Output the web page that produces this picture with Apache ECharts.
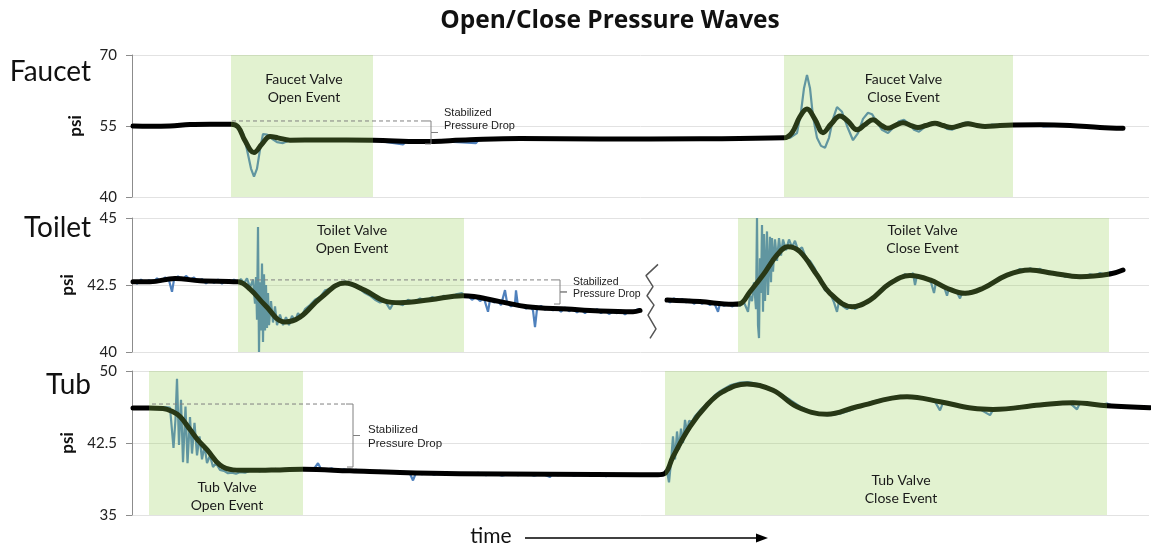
<!DOCTYPE html>
<html><head><meta charset="utf-8">
<script src="https://cdn.jsdelivr.net/npm/echarts@6/dist/echarts.min.js"></script>
<style>html,body{margin:0;padding:0;background:#fff}#c{width:1151px;height:545px}</style>
</head><body><div id="c"></div>
<script>
// ---------- DATA (time in arbitrary units, pressure in psi) ----------
const faucetSmooth = [[133,55.0],[150,54.95],[170,55.0],[190,55.3],[210,55.35],[231,55.35],[238,54.8],[245,51.9],[254,49.4],[262,51.2],[270,52.8],[278,52.5],[290,52.0],[320,52.05],[373,52.0],[420,51.7],[470,52.1],[520,52.35],[600,52.25],[700,52.3],[784,52.5],
  [792,53.6],[800,57.0],[807,58.6],[815,56.4],[823,53.6],[831,55.4],[840,57.1],[848,56.0],[857,54.2],[865,55.3],[873,56.3],[881,55.2],[888,54.5],[896,55.2],[903,55.7],[911,55.1],[918,54.7],[926,55.1],[935,55.6],[943,55.1],[952,54.7],[960,55.1],[968,55.5],[977,55.1],[985,54.9],[1000,55.1],[1013,55.2],[1040,55.25],[1070,55.1],[1100,54.7],[1123,54.5]];
const faucetRaw = [[133,55.05],[150,54.95],[170,55.05],[190,55.25],[210,55.3],[231,55.35],[238,55.0],[243,53.5],[247,50.0],[251,46.0],[254,44.3],[257,46.0],[260,50.0],[263,53.3],[267,53.2],[272,52.3],[277,51.6],[283,51.4],[290,52.0],[300,52.2],[320,52.1],[350,52.0],[373,52.0],[403,51.1],[406,51.7],[440,51.8],[476,51.4],[479,52.2],[520,52.4],[600,52.2],[700,52.3],[784,52.5],[790,52.5],[797,53.5],[801,58.0],[804,63.0],[807,65.8],[810,63.0],[813,57.0],[817,52.5],[821,50.8],[825,50.4],[829,52.5],[833,56.5],[837,59.0],[842,58.0],[847,55.0],[853,52.0],[858,53.5],[863,56.5],[868,57.8],[872,57.5],[877,55.8],[882,54.2],[888,53.5],[894,54.8],[899,56.0],[904,56.3],[910,55.3],[914,54.2],[919,53.8],[925,54.8],[930,55.6],[936,55.8],[942,55.2],[947,54.4],[952,54.2],[958,54.9],[963,55.6],[968,55.8],[974,55.3],[980,54.8],[986,54.8],[992,55.3],[1000,55.2],[1013,55.2],[1040,55.35],[1043,54.9],[1070,55.2],[1100,54.7],[1124,54.5]];

const toiletSmooth = [[133,42.62],[150,42.62],[175,42.74],[200,42.66],[238,42.62],[250,42.35],[265,41.75],[285,41.12],[300,41.3],[320,42.0],[345,42.57],[365,42.3],[385,41.9],[400,41.84],[430,41.95],[463,42.1],[500,41.88],[527,41.69],[567,41.6],[600,41.53],[633,41.5],[640,41.55],[653,null],
  [667,41.94],[700,41.88],[733,41.78],[740,41.8],[750,42.25],[763,42.87],[777,43.62],[788,43.93],[800,43.74],[817,42.87],[830,42.19],[852,41.69],[870,41.94],[890,42.56],[910,42.85],[930,42.69],[947,42.38],[965,42.19],[983,42.38],[1007,42.87],[1030,43.06],[1053,42.94],[1080,42.81],[1110,42.91],[1123,43.06]];
const toiletRaw = [[133,42.66],[137,42.55],[141,42.7],[145,42.58],[149,42.68],[153,42.6],[157,42.75],[161,42.63],[165,42.78],[169,42.68],[172,42.25],[174,42.7],[178,42.82],[182,42.68],[186,42.84],[190,42.7],[194,42.78],[198,42.62],[202,42.72],[206,42.56],[210,42.68],[214,42.58],[218,42.7],[222,42.55],[226,42.68],[230,42.57],[234,42.7],[238,42.6],
  [241,42.72],[244,42.55],[247,42.75],[250,42.4],[253,42.7],[255,41.8],[256,42.8],[257,41.2],[258,44.66],[259,40.0],[260,42.6],[261,40.8],[262,43.3],[263,40.37],[264,42.9],[265,40.8],[266,42.5],[267,40.9],[268,42.2],[269,41.0],[271,41.9],[273,41.1],[275,41.7],[277,41.0],[280,41.4],[283,41.0],[286,41.3],[289,41.0],[292,41.35],[295,41.15],[298,41.45],[301,41.3],[305,41.6],[310,41.75],[315,41.95],[320,42.05],[325,42.3],[330,42.35],[335,42.5],[340,42.58],[345,42.63],[350,42.5],[355,42.45],[360,42.35],[365,42.2],[370,42.1],[375,41.95],[380,41.85],[385,41.9],[390,41.6],[393,41.8],[398,41.82],[403,41.75],[408,41.95],[414,41.85],[420,42.0],[426,41.9],[432,42.05],[438,41.95],[444,42.1],[450,42.05],[456,42.15],[462,42.2],[465,42.05],
  [468,42.1],[472,41.95],[476,42.05],[480,41.9],[484,42.0],[488,41.5],[490,41.95],[494,41.85],[498,41.9],[501,41.75],[505,42.31],[507,41.85],[511,41.7],[515,41.82],[516,42.3],[518,41.7],[522,41.75],[526,41.62],[530,41.7],[533,41.55],[535,40.93],[537,41.6],[541,41.72],[545,41.58],[549,41.68],[553,41.55],[557,41.65],[561,41.5],[565,41.66],[569,41.52],[573,41.62],[577,41.48],[581,41.6],[585,41.45],[589,41.58],[593,41.5],[597,41.6],[601,41.45],[605,41.55],[609,41.42],[613,41.5],[617,41.45],[621,41.55],[625,41.4],[629,41.52],[633,41.47],[637,41.58],[640,41.6],[653,null],
  [666,41.97],[670,41.85],[674,42.0],[678,41.88],[682,41.98],[686,41.85],[690,41.95],[694,41.8],[698,41.9],[702,41.8],[706,41.88],[710,41.75],[714,41.85],[718,41.5],[720,41.82],[724,41.72],[728,41.8],[732,41.7],[736,41.78],[740,41.72],[744,41.85],[748,41.5],[750,42.1],[752,41.9],[754,42.6],[756,41.6],[757,45.0],[758,41.0],[759,40.52],[760,43.5],[761,42.2],[762,44.74],[763,41.5],[764,44.4],[765,41.9],[767,44.5],[768,42.13],[770,44.3],[771,42.6],[772,44.25],[773,43.0],[775,44.2],[777,43.4],[779,44.25],[781,43.6],[783,44.2],[786,43.8],[789,44.2],[792,43.9],[795,44.15],[798,43.8],[802,43.9],
  [806,43.5],[810,43.4],[815,43.1],[820,42.7],[825,42.3],[830,42.2],[834,41.85],[837,41.5],[839,41.9],[843,41.7],[847,41.6],[851,41.75],[855,41.6],[859,41.72],[863,41.8],[867,41.85],[871,42.0],[875,42.1],[880,42.3],[885,42.45],[890,42.6],[895,42.7],[900,42.78],[905,42.9],[910,42.82],[913,42.95],[915,42.5],[917,42.85],[922,42.78],[927,42.72],[931,42.6],[934,42.2],[936,42.62],[940,42.5],[944,42.45],[947,42.1],[949,42.4],[953,42.3],[957,42.22],[960,42.0],[962,42.2],[966,42.15],[970,42.25],[975,42.28],[980,42.35],[985,42.4],[990,42.55],[995,42.62],[1000,42.75],[1005,42.85],[1010,42.95],[1015,42.98],[1020,43.1],[1025,43.02],[1030,43.12],[1035,43.05],[1040,43.1],[1045,42.98],[1050,43.0],[1055,42.88],[1060,42.95],[1065,42.8],[1070,42.88],[1075,42.78],[1080,42.85],[1085,42.8],[1090,42.9],[1095,42.85],[1100,42.95],[1105,42.88],[1110,42.98],[1115,42.95],[1120,43.05],[1124,43.1]];

const tubSmooth = [[133,46.15],[149,46.15],[163,46.1],[172,45.8],[180,45.25],[190,43.9],[198,42.8],[207,41.8],[220,40.2],[233,39.7],[250,39.65],[280,39.7],[303,39.76],[350,39.6],[400,39.42],[460,39.3],[550,39.25],[640,39.2],[658,39.2],
  [665,39.34],[673,41.07],[690,44.2],[707,46.46],[723,47.85],[747,48.65],[773,48.0],[797,46.28],[827,45.49],[857,46.28],[907,47.32],[940,46.8],[973,46.11],[993,46.0],[1040,46.46],[1073,46.7],[1107,46.39],[1150,46.18]];
const tubRaw = [[133,46.25],[140,46.2],[149,46.25],[158,46.2],[165,46.25],[170,46.2],[172,46.0],[173.5,42.0],[175.5,45.0],[177,49.2],[179,42.3],[181,47.0],[183,40.5],[185.5,46.3],[187.5,40.4],[190,45.2],[192,41.4],[194.5,44.6],[197,41.2],[199.5,43.2],[202,40.8],[204.5,42.2],[207,40.4],[210,41.2],[213,40.0],[216,40.4],[220,39.7],[224,39.6],[228,39.35],[232,39.4],[236,39.3],[240,39.45],[245,39.4],[250,39.6],[255,39.7],[260,39.55],[265,39.75],[270,39.6],[275,39.8],[280,39.65],[285,39.8],[290,39.7],[295,39.85],[300,39.75],
  [305,39.8],[310,39.7],[315,39.95],[318,40.4],[321,39.8],[326,39.7],[332,39.85],[338,39.6],[344,39.75],[350,39.55],[356,39.7],[362,39.5],[368,39.65],[374,39.45],[380,39.6],[386,39.4],[392,39.55],[398,39.35],[404,39.5],[410,39.3],[413,38.6],[416,39.4],[422,39.25],[428,39.45],[434,39.2],[440,39.4],[446,39.2],[452,39.35],[458,39.2],[464,39.35],[470,39.2],[478,39.4],[486,39.15],[494,39.35],[502,39.1],[510,39.3],[518,39.15],[526,39.35],[534,39.1],[542,39.3],[550,38.95],[552,39.3],[558,39.15],[566,39.35],[574,39.1],[582,39.3],[590,39.15],[598,39.3],[606,39.05],[614,39.3],[622,39.1],[630,39.25],[638,39.1],[646,39.25],[654,39.1],[660,39.25],
  [664,39.3],[667,39.6],[669,38.4],[671,40.5],[673,43.2],[675,40.8],[677,43.7],[679,41.8],[681,44.0],[683,42.5],[685,44.9],[687,43.6],[689,44.8],[692,44.7],[695,45.3],[700,45.9],[705,46.4],[710,46.9],[715,47.5],[720,47.9],[730,48.5],[740,48.8],[748,48.85],[760,48.6],[770,48.2],[780,47.6],[790,47.0],[800,46.3],[810,45.8],[820,45.5],[828,45.4],[840,45.55],[850,45.9],[860,46.3],[870,46.75],[880,47.0],[890,47.2],[900,47.4],[907,47.35],[915,47.2],[925,47.1],[935,46.8],[940,45.9],[943,46.7],[950,46.6],[960,46.3],[970,46.1],[980,46.0],[990,45.4],[993,45.95],[1000,45.95],[1010,46.15],[1020,46.3],[1030,46.4],[1040,46.5],[1050,46.55],[1060,46.6],[1070,46.65],[1077,46.0],[1080,46.7],[1090,46.6],[1100,46.45],[1107,46.6],[1115,46.3],[1125,46.2],[1135,46.25],[1142,46.1],[1149,46.2]];

// event windows [start, end]
const faucetEvents = [[231,373],[784,1013]];
const toiletEvents = [[238,464],[738,1109]];
const tubEvents = [[149,303],[665,1107]];
const faucetEventNames = ['Faucet Valve\nOpen Event','Faucet Valve\nClose Event'];
const toiletEventNames = ['Toilet Valve\nOpen Event','Toilet Valve\nClose Event'];
const tubEventNames = ['Tub Valve\nOpen Event','Tub Valve\nClose Event'];

// stabilized pressure drop: [start time, bracket time, level before, level after]
const faucetDrop = [232, 431, 56.06, 51.2];
const toiletDrop = [250, 560, 42.69, 41.79];
const tubDrop = [152, 353, 46.56, 40.0];

// tick labels
const faucetTicks = [40, 55, 70];
const toiletTicks = [40, 42.5, 45];
const tubTicks = [35, 42.5, 50];

// break marker on the toilet panel (time, psi)
const toiletBreak = [[658,43.27],[646,42.85],[653,42.44],[647,42.10],[654,41.75],[648,41.38],[656,40.86],[650,40.51]];

// ---------- CHART ----------
const FONT = 'Lato, "Open Sans", sans-serif';
const panels = [
  {name:'Faucet', ticks:faucetTicks, raw:faucetRaw, smooth:faucetSmooth, events:faucetEvents, names:faucetEventNames, drop:faucetDrop, top:55, height:142,
   labelPos:[{position:'insideTop', distance:15, offset:[2,0]},{position:'insideTop', distance:15, offset:[5,0]}]},
  {name:'Toilet', ticks:toiletTicks, raw:toiletRaw, smooth:toiletSmooth, events:toiletEvents, names:toiletEventNames, drop:toiletDrop, top:218, height:134,
   labelPos:[{position:'insideTop', distance:3, offset:[1,0]},{position:'insideTop', distance:3, offset:[-1,0]}]},
  {name:'Tub', ticks:tubTicks, raw:tubRaw, smooth:tubSmooth, events:tubEvents, names:tubEventNames, drop:tubDrop, top:371, height:144,
   labelPos:[{position:'insideBottom', distance:1, offset:[1,0]},{position:'insideBottom', distance:8, offset:[15,0]}]}
];

const grids = [], xAxes = [], yAxes = [], series = [];
panels.forEach((p, i) => {
  grids.push({left:132, right:2, top:p.top, height:p.height});
  xAxes.push({type:'value', gridIndex:i, min:132, max:1149, show:false});
  const step = p.ticks[1] - p.ticks[0];
  yAxes.push({type:'value', gridIndex:i, min:p.ticks[0], max:p.ticks[2], interval:step,
    name:'psi', nameLocation:'middle', nameRotate:90, nameGap:48,
    nameTextStyle:{fontFamily:FONT, fontSize:17, fontWeight:'bold', color:'#111'},
    axisLine:{show:true, lineStyle:{color:'#8c8c8c', width:1}},
    axisTick:{show:true, length:6, lineStyle:{color:'#8c8c8c'}},
    axisLabel:{fontFamily:FONT, fontSize:15, color:'#222', margin:15},
    splitLine:{show:true, lineStyle:{color:'#e2e2e2', width:1}}
  });
  series.push({type:'line', xAxisIndex:i, yAxisIndex:i, data:p.raw, symbol:'none', silent:true, animation:false,
    lineStyle:{color:'#4f81bd', width:2.2}, z:2});
  series.push({type:'line', xAxisIndex:i, yAxisIndex:i, data:p.smooth, symbol:'none', smooth:0.4, silent:true, animation:false,
    lineStyle:{color:'#000', width:5, cap:'round', join:'round'}, z:3});
  series.push({type:'line', xAxisIndex:i, yAxisIndex:i, data:[], silent:true, animation:false, z:8,
    markArea:{silent:true, animation:false, z:8, itemStyle:{color:'rgba(146,208,80,0.27)'},
      label:{color:'#1a1a1a', fontFamily:FONT, fontSize:14, lineHeight:18},
      data:p.events.map((e, k) => [{xAxis:e[0], name:p.names[k], label:p.labelPos[k]}, {xAxis:e[1]}])}});
  const d = p.drop, mid = (d[2] + d[3]) / 2;
  series.push({type:'line', xAxisIndex:i, yAxisIndex:i, data:[[d[0], d[2]], [d[1]-7, d[2]]], symbol:'none', silent:true, animation:false, z:12,
    lineStyle:{color:'#808080', width:1, type:[4,3]}});
  series.push({type:'line', xAxisIndex:i, yAxisIndex:i, data:[[d[1]-7,d[2]],[d[1],d[2]],[d[1],mid],[d[1]+7,mid],[d[1],mid],[d[1],d[3]],[d[1]-6,d[3]]],
    symbol:'none', silent:true, animation:false, z:12, lineStyle:{color:'#808080', width:1}});
});
series.push({type:'line', xAxisIndex:1, yAxisIndex:1, data:toiletBreak, symbol:'none', silent:true, animation:false, z:12,
  lineStyle:{color:'#555', width:1.5}});

const SMALL = '"Liberation Sans", Arial, sans-serif';
const graphic = [
  {type:'text', x:610, y:21, z:20, style:{text:'Open/Close Pressure Waves', font:'bold 24.5px "Open Sans", sans-serif', fill:'#111', align:'center', verticalAlign:'middle'}},
  {type:'text', x:91, y:72, z:20, style:{text:'Faucet', font:'28px '+FONT, fill:'#111', align:'right', verticalAlign:'middle'}},
  {type:'text', x:91, y:228, z:20, style:{text:'Toilet', font:'28px '+FONT, fill:'#111', align:'right', verticalAlign:'middle'}},
  {type:'text', x:91, y:385, z:20, style:{text:'Tub', font:'28px '+FONT, fill:'#111', align:'right', verticalAlign:'middle'}},
  {type:'text', x:444, y:119, z:20, style:{text:'Stabilized\nPressure Drop', font:'11px '+SMALL, lineHeight:13, fill:'#222', verticalAlign:'middle'}},
  {type:'text', x:573, y:288, z:20, style:{text:'Stabilized\nPressure Drop', font:'10.5px '+SMALL, lineHeight:12, fill:'#222', verticalAlign:'middle'}},
  {type:'text', x:368, y:437, z:20, style:{text:'Stabilized\nPressure Drop', font:'11.5px '+SMALL, lineHeight:13.5, fill:'#222', verticalAlign:'middle'}},
  {type:'text', x:491, y:536, z:20, style:{text:'time', font:'21px '+FONT, fill:'#111', align:'center', verticalAlign:'middle'}},
  {type:'line', z:20, shape:{x1:525, y1:538, x2:760, y2:538}, style:{stroke:'#000', lineWidth:1.5}},
  {type:'polygon', z:20, shape:{points:[[768,538],[756,533.5],[756,542.5]]}, style:{fill:'#000'}}
];

const chart = echarts.init(document.getElementById('c'));
chart.setOption({animation:false, backgroundColor:'#fff', grid:grids, xAxis:xAxes, yAxis:yAxes, series:series, graphic:graphic});
</script></body></html>
